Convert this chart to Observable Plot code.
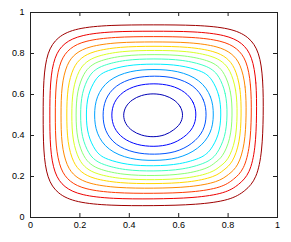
<!DOCTYPE html>
<html><head><meta charset="utf-8">
<script src="https://cdn.jsdelivr.net/npm/d3@7"></script>
<script src="https://cdn.jsdelivr.net/npm/@observablehq/plot@0.6"></script>
<style>html,body{margin:0;padding:0;background:#fff}</style>
</head><body><div id="chart"></div>
<script>
// tick values and labels
const ticks = [0, 0.2, 0.4, 0.6, 0.8, 1];
const tickLabels = ["0", "0.2", "0.4", "0.6", "0.8", "1"];

// contour level index of each line (outermost first)
const levels = [13, 12, 11, 10, 9, 8, 7, 6, 5, 4, 3, 2, 1];

// contour lines, points [x, y] (outermost first)
const c1 = [[.943,.4985],[.942,.675],[.927,.808],[.885,.883],[.809,.924],[.675,.939],[.497,.940],[.319,.939],[.185,.924],[.109,.883],[.067,.808],[.052,.675],[.051,.4985],[.052,.322],[.067,.189],[.109,.114],[.185,.073],[.319,.058],[.497,.057],[.675,.062],[.809,.084],[.870,.129],[.916,.189],[.938,.322]];
const c2 = [[.916,.4995],[.915,.663],[.898,.786],[.859,.853],[.790,.891],[.665,.908],[.497,.909],[.329,.908],[.204,.891],[.135,.853],[.096,.786],[.079,.663],[.078,.4995],[.079,.336],[.096,.213],[.135,.146],[.204,.108],[.329,.091],[.497,.090],[.665,.095],[.790,.118],[.844,.160],[.888,.213],[.911,.336]];
const c3 = [[.895,.500],[.893,.653],[.875,.768],[.837,.827],[.776,.863],[.657,.881],[.4975,.883],[.338,.881],[.219,.863],[.158,.827],[.1205,.768],[.1015,.653],[.100,.500],[.1015,.347],[.1205,.232],[.158,.173],[.219,.137],[.338,.119],[.4975,.117],[.657,.122],[.776,.146],[.823,.186],[.8645,.232],[.889,.347]];
const c4 = [[.874,.4995],[.872,.6425],[.8505,.750],[.8155,.8015],[.761,.835],[.649,.855],[.4985,.857],[.348,.855],[.2355,.835],[.181,.8015],[.1465,.750],[.125,.6425],[.123,.4995],[.125,.3565],[.1465,.249],[.181,.1975],[.2355,.164],[.348,.144],[.4985,.142],[.649,.1475],[.761,.173],[.8025,.210],[.841,.249],[.868,.3565]];
const c5 = [[.854,.500],[.851,.634],[.827,.735],[.795,.780],[.748,.811],[.642,.833],[.500,.836],[.358,.833],[.252,.811],[.205,.780],[.173,.735],[.149,.634],[.146,.500],[.149,.366],[.173,.265],[.205,.220],[.252,.189],[.358,.167],[.500,.164],[.642,.170],[.748,.198],[.7825,.232],[.818,.265],[.848,.366]];
const c6 = [[.838,.4995],[.834,.626],[.808,.721],[.7785,.760],[.737,.788],[.636,.8125],[.502,.816],[.368,.8125],[.267,.788],[.2255,.760],[.196,.721],[.170,.626],[.166,.4995],[.170,.373],[.196,.278],[.2255,.239],[.267,.211],[.368,.1865],[.502,.183],[.636,.1895],[.737,.219],[.767,.250],[.800,.278],[.831,.373]];
const c7 = [[.818,.4995],[.813,.618],[.7845,.707],[.758,.740],[.723,.765],[.6275,.7915],[.5005,.796],[.3735,.7915],[.278,.765],[.243,.740],[.2165,.707],[.188,.618],[.183,.4995],[.188,.381],[.2165,.292],[.243,.259],[.278,.234],[.3735,.2075],[.5005,.203],[.6275,.2105],[.723,.2415],[.747,.269],[.7765,.292],[.810,.381]];
const c8 = [[.798,.500],[.792,.610],[.762,.6925],[.738,.720],[.7085,.7415],[.619,.770],[.4995,.775],[.380,.770],[.2905,.7415],[.261,.720],[.237,.6925],[.207,.610],[.201,.500],[.207,.390],[.237,.3075],[.261,.280],[.2905,.2585],[.380,.230],[.4995,.225],[.619,.233],[.7085,.2655],[.7323,.2855],[.754,.3075],[.789,.390]];
const c9 = [[.773,.500],[.766,.600],[.734,.675],[.7145,.697],[.691,.715],[.608,.744],[.4985,.750],[.389,.744],[.306,.715],[.2825,.697],[.263,.675],[.231,.600],[.224,.500],[.231,.400],[.263,.325],[.2825,.303],[.306,.285],[.389,.256],[.4985,.250],[.608,.259],[.691,.291],[.709,.308],[.7275,.325],[.7635,.400]];
const c10 = [[.743,.500],[.735,.590],[.688,.673],[.597,.717],[.500,.724],[.403,.717],[.312,.673],[.265,.590],[.257,.500],[.265,.410],[.312,.327],[.403,.283],[.500,.276],[.597,.2855],[.681,.333],[.733,.410]];
const c11 = [[.714,.499],[.705,.576],[.663,.645],[.587,.684],[.5025,.692],[.418,.684],[.342,.645],[.300,.576],[.291,.499],[.300,.422],[.342,.353],[.418,.314],[.5025,.306],[.587,.316],[.6565,.3585],[.703,.422]];
const c12 = [[.673,.4995],[.663,.562],[.627,.614],[.569,.646],[.4995,.655],[.430,.646],[.372,.614],[.336,.562],[.326,.4995],[.336,.437],[.372,.385],[.430,.353],[.4995,.344],[.569,.355],[.622,.390],[.661,.437]];
const c13 = [[.619,.4985],[.609,.5415],[.583,.5745],[.5455,.597],[.4965,.606],[.4475,.597],[.410,.5745],[.384,.5415],[.374,.4985],[.384,.4555],[.410,.4225],[.4475,.400],[.4965,.391],[.5455,.401],[.579,.4257],[.6075,.4555]];

const contours = [c1, c2, c3, c4, c5, c6, c7, c8, c9, c10, c11, c12, c13];
const rows = contours.flatMap((pts, i) => pts.map(([x, y]) => ({x, y, level: levels[i]})));

// MATLAB jet colormap
function jet(t) {
  const c = v => Math.round(255 * Math.max(0, Math.min(1, v)));
  return `rgb(${c(1.5 - Math.abs(4 * t - 3))},${c(1.5 - Math.abs(4 * t - 2))},${c(1.5 - Math.abs(4 * t - 1))})`;
}

const W = 291, H = 242, mt = 12, mb = 25, ml = 30, mr = 14;
const plotH = H - mt - mb, plotW = W - ml - mr, tl = 4;
const axisColor = "#222";

const chart = Plot.plot({
  width: W, height: H,
  marginTop: mt, marginBottom: mb, marginLeft: ml, marginRight: mr,
  style: {fontFamily: "'Liberation Sans', Arial, Helvetica, sans-serif", fontSize: "9px", background: "#fff", color: "#000"},
  x: {domain: [0, 1], axis: null, label: null},
  y: {domain: [0, 1], axis: null, label: null},
  color: {type: "linear", domain: [0.3, 13.4], interpolate: jet},
  marks: [
    Plot.line(rows, {x: "x", y: "y", z: "level", stroke: "level", curve: "basis-closed", strokeWidth: 1}),
    Plot.tickX(ticks, {x: d => d, insetTop: plotH - tl, stroke: axisColor}),
    Plot.tickX(ticks, {x: d => d, insetBottom: plotH - tl, stroke: axisColor}),
    Plot.tickY(ticks, {y: d => d, insetRight: plotW - tl, stroke: axisColor}),
    Plot.tickY(ticks, {y: d => d, insetLeft: plotW - tl, stroke: axisColor}),
    Plot.frame({stroke: axisColor}),
    Plot.axisX(ticks, {tickSize: 0, tickPadding: 4, label: null, tickFormat: d => tickLabels[ticks.indexOf(d)]}),
    Plot.axisY(ticks, {tickSize: 0, tickPadding: 6, label: null, tickFormat: d => tickLabels[ticks.indexOf(d)]})
  ]
});
document.getElementById("chart").appendChild(chart);
</script>
</body></html>
